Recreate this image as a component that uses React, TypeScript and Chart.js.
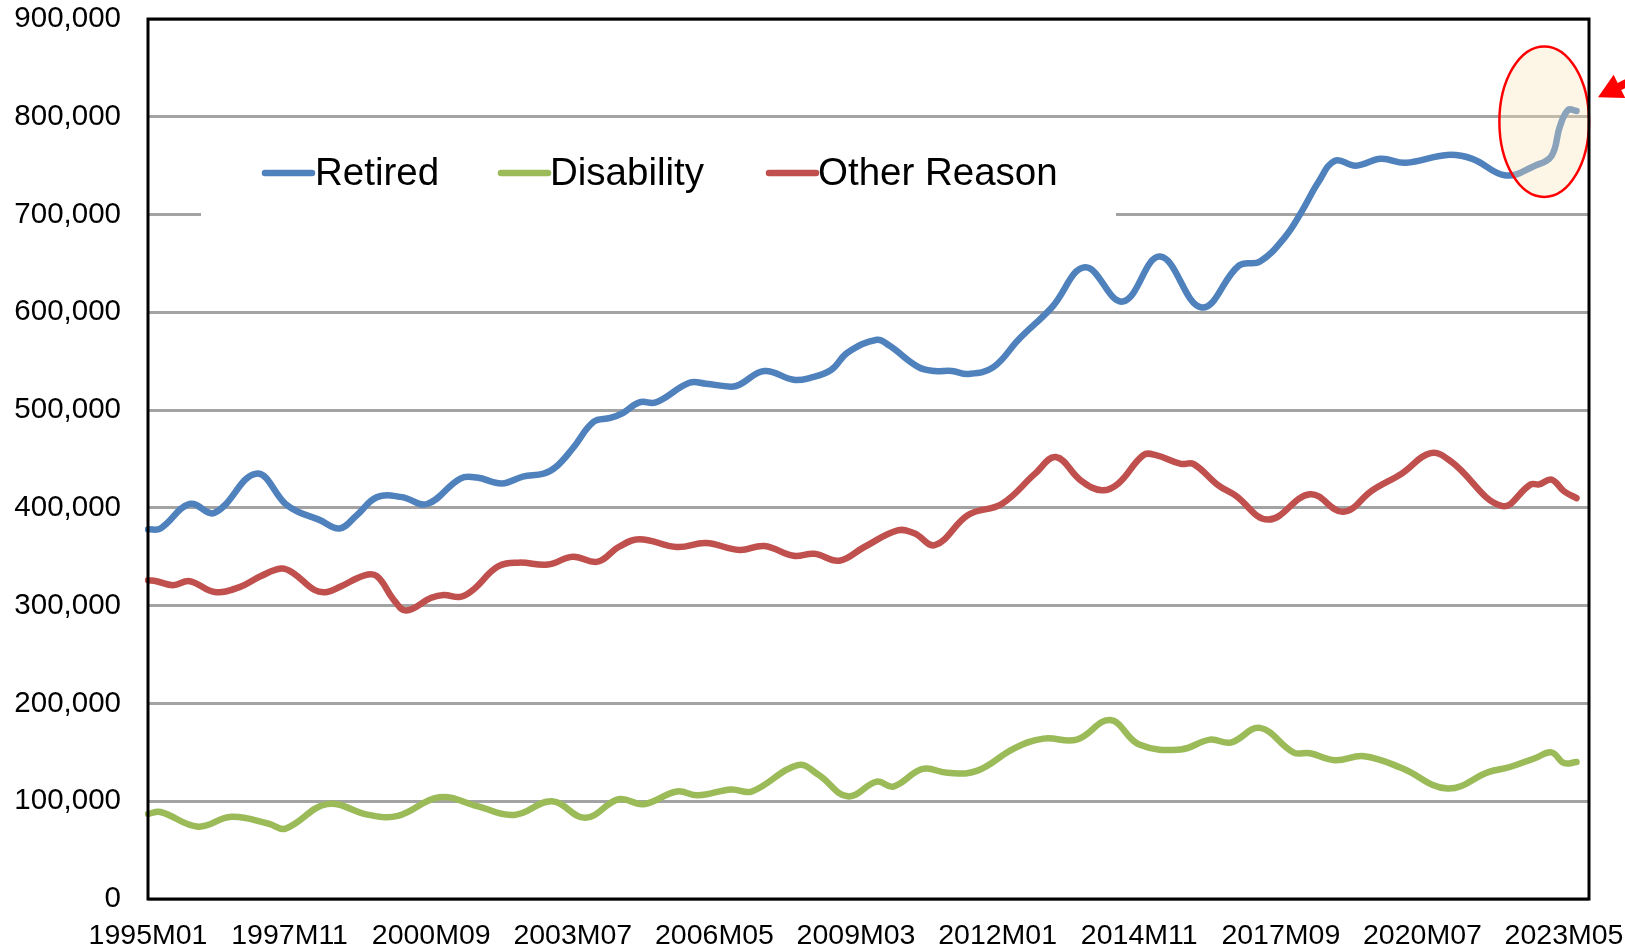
import React, { useEffect, useRef } from "react";
import { Chart, registerables } from "chart.js";

Chart.register(...registerables);

// ---- Category labels (monthly) ----
const firstYear = 1995;
const lastYear = 2023;
const lastMonth = 11;
const monthLabels: string[] = [];
for (let y = firstYear; y <= lastYear; y++) {
  for (let m = 1; m <= 12; m++) {
    if (y === lastYear && m > lastMonth) break;
    monthLabels.push(`${y}M${String(m).padStart(2, "0")}`);
  }
}
const tickEvery = 34; // 1995M01, 1997M11, 2000M09, ... 2023M05

// ---- Series values ----
const retiredDates = [
  "1995M01", "1995M04", "1995M11", "1996M05", "1997M03", "1997M10", "1998M01", "1998M06",
  "1998M11", "1999M03", "1999M08", "2000M02", "2000M08", "2001M04", "2001M08", "2002M02",
  "2002M07", "2002M12", "2003M03", "2003M07", "2003M12", "2004M04", "2004M07", "2004M11",
  "2005M03", "2005M11", "2006M03", "2006M09", "2006M11", "2007M05", "2007M12", "2008M04",
  "2008M09", "2009M01", "2009M08", "2009M11", "2010M06", "2010M10", "2011M02", "2011M06",
  "2011M12", "2012M06", "2013M02", "2013M10", "2014M07", "2015M04", "2016M02", "2016M11",
  "2017M04", "2017M10", "2018M02", "2018M06", "2018M10", "2019M03", "2019M09", "2020M03",
  "2021M01", "2021M07", "2022M03", "2022M10", "2023M02", "2023M04", "2023M06", "2023M08",
];
const retiredValues = [
  378000, 379000, 404000, 395000, 435000, 404000, 396000, 388000,
  379000, 392000, 411000, 411000, 404000, 430000, 431000, 425000,
  432000, 435000, 442000, 461000, 488000, 492000, 497000, 508000,
  508000, 528000, 527000, 524000, 526000, 540000, 531000, 533000,
  541000, 559000, 572000, 566000, 544000, 540000, 540000, 537000,
  544000, 572000, 605000, 646000, 611000, 657000, 605000, 648000,
  652000, 677000, 703000, 733000, 755000, 750000, 757000, 753000,
  761000, 757000, 740000, 750000, 760000, 790000, 807000, 806000,
];

const disabilityDates = [
  "1995M01", "1995M04", "1996M01", "1996M09", "1997M06", "1997M10", "1998M08", "1999M06",
  "2000M01", "2000M11", "2001M08", "2002M05", "2003M02", "2003M10", "2004M06", "2004M12",
  "2005M08", "2006M01", "2006M09", "2007M02", "2008M01", "2008M06", "2009M01", "2009M08",
  "2009M12", "2010M07", "2011M01", "2011M08", "2012M05", "2012M12", "2013M08", "2014M04",
  "2014M11", "2015M09", "2016M04", "2016M09", "2017M04", "2017M12", "2018M04", "2018M10",
  "2019M05", "2020M02", "2021M01", "2021M11", "2022M04", "2022M10", "2023M02", "2023M05",
  "2023M08",
];
const disabilityValues = [
  87000, 89000, 74000, 84000, 77000, 72000, 97000, 86000,
  85000, 104000, 95000, 86000, 100000, 83000, 102000, 97000,
  110000, 106000, 112000, 110000, 137000, 127000, 105000, 120000,
  115000, 133000, 129000, 131000, 154000, 164000, 163000, 183000,
  158000, 153000, 163000, 160000, 175000, 150000, 149000, 142000,
  146000, 134000, 113000, 130000, 135000, 144000, 150000, 139000,
  140000,
];

const otherDates = [
  "1995M01", "1995M03", "1995M07", "1995M11", "1996M05", "1996M11", "1997M04", "1997M09",
  "1997M12", "1998M05", "1998M08", "1998M11", "1999M05", "1999M08", "1999M12", "2000M03",
  "2000M09", "2000M12", "2001M04", "2001M07", "2002M01", "2002M06", "2003M01", "2003M07",
  "2004M01", "2004M06", "2004M11", "2005M08", "2006M03", "2006M11", "2007M05", "2007M12",
  "2008M05", "2008M11", "2009M05", "2010M01", "2010M05", "2010M10", "2011M06", "2012M02",
  "2012M10", "2013M03", "2013M09", "2014M02", "2014M06", "2014M12", "2015M03", "2015M09",
  "2015M12", "2016M06", "2016M10", "2017M06", "2018M04", "2018M12", "2019M07", "2020M02",
  "2020M09", "2021M02", "2022M02", "2022M09", "2022M11", "2023M02", "2023M05", "2023M08",
];
const otherValues = [
  326000, 325000, 321000, 325000, 314000, 319000, 330000, 338000,
  333000, 316000, 314000, 319000, 331000, 330000, 306000, 295000,
  308000, 311000, 309000, 316000, 340000, 344000, 342000, 350000,
  345000, 360000, 368000, 360000, 364000, 357000, 361000, 351000,
  353000, 346000, 360000, 377000, 374000, 362000, 393000, 404000,
  435000, 452000, 428000, 418000, 425000, 454000, 454000, 445000,
  445000, 423000, 413000, 388000, 414000, 396000, 418000, 435000,
  456000, 447000, 402000, 424000, 424000, 429000, 417000, 410000,
];

const seriesNames = ["Retired", "Disability", "Other Reason"];
const seriesColors = ["#4F81BD", "#9BBB59", "#C0504D"];

const yMin = 0;
const yMax = 900000;
const yStep = 100000;

// annotation: highlighted recent period
const highlightFrom = "2022M01";
const highlightTop = 872000;
const highlightBottom = 718000;

const FONT = "'Liberation Sans', Arial, Helvetica, sans-serif";

const toPoints = (dates: string[], values: number[]) =>
  dates.map((d, i) => ({ x: d, y: values[i] }));

const legendPlugin = {
  id: "insideLegend",
  beforeDatasetsDraw(chart: any) {
    const { ctx, chartArea } = chart;
    const x0 = chartArea.left;
    const y0 = chartArea.top;
    ctx.save();
    ctx.fillStyle = "#FFFFFF";
    ctx.fillRect(x0 + 53, y0 + 106, 915, 91);
    ctx.font = `38.5px ${FONT}`;
    ctx.textBaseline = "middle";
    ctx.textAlign = "left";
    const items = [
      { line: 114, text: 167 },
      { line: 350, text: 402 },
      { line: 618, text: 670 },
    ];
    const cy = y0 + 154;
    items.forEach((it, i) => {
      ctx.strokeStyle = seriesColors[i];
      ctx.lineWidth = 6.5;
      ctx.lineCap = "round";
      ctx.beginPath();
      ctx.moveTo(x0 + it.line + 3, cy);
      ctx.lineTo(x0 + it.line + 50, cy);
      ctx.stroke();
      ctx.fillStyle = "#000000";
      ctx.fillText(seriesNames[i], x0 + it.text, cy + 1);
    });
    ctx.restore();
  },
};

const overlayPlugin = {
  id: "overlay",
  afterDatasetsDraw(chart: any) {
    const { ctx, chartArea, scales } = chart;
    const xs = scales.x;
    const ys = scales.y;
    ctx.save();
    // ellipse highlight
    const left = xs.getPixelForValue(monthLabels.indexOf(highlightFrom)) + 2;
    const right = chartArea.right;
    const top = ys.getPixelForValue(highlightTop);
    const bottom = ys.getPixelForValue(highlightBottom);
    const cx = (left + right) / 2;
    const cy = (top + bottom) / 2;
    ctx.beginPath();
    ctx.ellipse(cx, cy, (right - left) / 2, (bottom - top) / 2, 0, 0, Math.PI * 2);
    ctx.fillStyle = "rgba(250, 226, 182, 0.35)";
    ctx.fill();
    ctx.strokeStyle = "#FF0000";
    ctx.lineWidth = 2.5;
    ctx.stroke();

    // plot frame
    ctx.strokeStyle = "#000000";
    ctx.lineWidth = 3;
    ctx.strokeRect(chartArea.left, chartArea.top, chartArea.right - chartArea.left, chartArea.bottom - chartArea.top);

    // red arrow pointing at the ellipse
    const tipX = chartArea.right + 9;
    const tipY = ys.getPixelForValue(820000);
    const dx = 0.894, dy = -0.447;
    const nx = -dy, ny = dx;
    const headLen = 24, headHalf = 13, shaftHalf = 4;
    ctx.fillStyle = "#FF0000";
    ctx.beginPath();
    ctx.moveTo(tipX, tipY);
    ctx.lineTo(tipX + dx * headLen + nx * headHalf, tipY + dy * headLen + ny * headHalf);
    ctx.lineTo(tipX + dx * headLen + nx * shaftHalf, tipY + dy * headLen + ny * shaftHalf);
    ctx.lineTo(tipX + dx * 90 + nx * shaftHalf, tipY + dy * 90 + ny * shaftHalf);
    ctx.lineTo(tipX + dx * 90 - nx * shaftHalf, tipY + dy * 90 - ny * shaftHalf);
    ctx.lineTo(tipX + dx * headLen - nx * shaftHalf, tipY + dy * headLen - ny * shaftHalf);
    ctx.lineTo(tipX + dx * headLen - nx * headHalf, tipY + dy * headLen - ny * headHalf);
    ctx.closePath();
    ctx.fill();
    ctx.restore();
  },
};

export default function App() {
  const canvasRef = useRef<HTMLCanvasElement | null>(null);

  useEffect(() => {
    if (!canvasRef.current) return;
    const datasets = [
      toPoints(retiredDates, retiredValues),
      toPoints(disabilityDates, disabilityValues),
      toPoints(otherDates, otherValues),
    ].map((data, i) => ({
      label: seriesNames[i],
      data,
      borderColor: seriesColors[i],
      backgroundColor: seriesColors[i],
      borderWidth: 6.5,
      pointRadius: 0,
      pointHoverRadius: 0,
      tension: 0.4,
      fill: false,
      borderCapStyle: "round" as const,
      borderJoinStyle: "round" as const,
    }));

    const chart = new Chart(canvasRef.current, {
      type: "line",
      data: { labels: monthLabels, datasets },
      options: {
        responsive: false,
        animation: false,
        events: [],
        layout: { padding: { top: 19, right: 36, left: 0, bottom: 0 } },
        plugins: {
          legend: { display: false },
          tooltip: { enabled: false },
        },
        scales: {
          x: {
            type: "category",
            offset: false,
            grid: { display: false, drawTicks: false },
            border: { display: false },
            ticks: {
              autoSkip: false,
              maxRotation: 0,
              minRotation: 0,
              padding: 20,
              color: "#000000",
              font: { family: FONT, size: 28.5 },
              callback: (_v: any, i: number) => (i % tickEvery === 0 ? monthLabels[i] : ""),
            },
            afterFit: (s: any) => {
              s.height = 51;
              s.paddingLeft = 0;
              s.paddingRight = 0;
            },
          },
          y: {
            min: yMin,
            max: yMax,
            grid: { color: "#A3A3A3", lineWidth: 3, drawTicks: false },
            border: { display: false },
            ticks: {
              stepSize: yStep,
              padding: 27,
              color: "#000000",
              font: { family: FONT, size: 29.5 },
              callback: (v: any) => Number(v).toLocaleString("en-US"),
            },
            afterFit: (s: any) => {
              s.width = 148;
              s.paddingTop = 0;
              s.paddingBottom = 0;
            },
          },
        },
      },
      plugins: [legendPlugin, overlayPlugin],
    });
    return () => chart.destroy();
  }, []);

  return (
    <div style={{ position: "fixed", left: 0, top: 0, width: 1625, height: 950, background: "#FFFFFF" }}>
      <canvas ref={canvasRef} width={1625} height={950} style={{ display: "block" }} />
    </div>
  );
}
